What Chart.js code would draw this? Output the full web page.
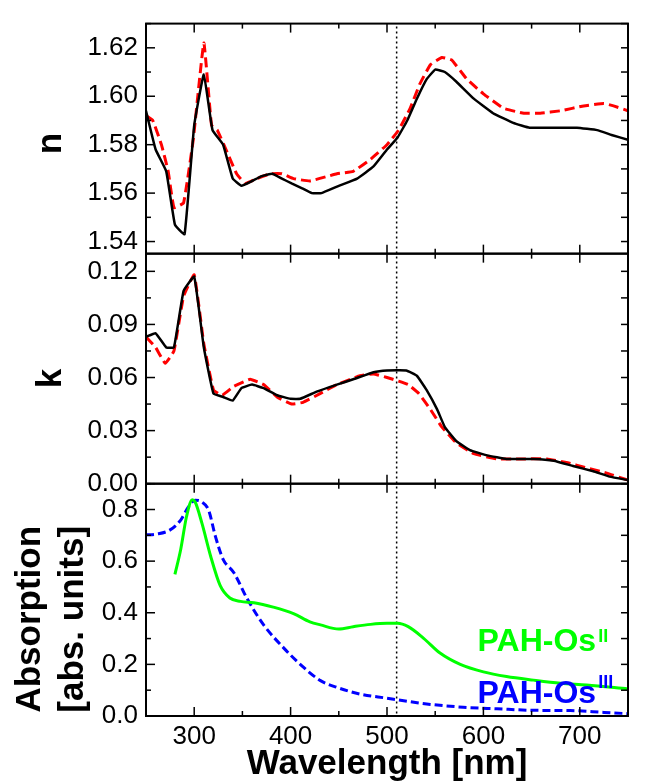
<!DOCTYPE html>
<html>
<head>
<meta charset="utf-8">
<title>n, k and absorption spectra</title>
<script src="https://cdn.jsdelivr.net/npm/chart.js@4.4.1/dist/chart.umd.min.js"></script>
<style>
  html, body { margin: 0; padding: 0; background: #fff; }
  canvas { display: block; }
</style>
</head>
<body>
<canvas id="spectra" width="646" height="783"></canvas>
<script>
// values (wavelength in nm)
const nBlackWl = [250, 260, 271, 280, 290, 300, 310, 319, 330, 340, 349, 360, 370, 381, 391, 401, 412, 422, 432, 450, 469, 486, 500, 511, 521, 531, 541, 550, 560, 572, 590, 610, 631, 648, 673, 697, 718, 733, 750];
const nBlack = [1.594, 1.578, 1.569, 1.547, 1.543, 1.588, 1.609, 1.586, 1.580, 1.566, 1.563, 1.565, 1.567, 1.568, 1.566, 1.564, 1.562, 1.560, 1.560, 1.563, 1.566, 1.571, 1.578, 1.583, 1.590, 1.599, 1.607, 1.611, 1.610, 1.606, 1.599, 1.593, 1.589, 1.587, 1.587, 1.587, 1.586, 1.584, 1.582];

const nRedWl = [250, 257, 266, 273, 279, 289, 299, 310, 318, 324, 334, 344, 353, 365, 379, 391, 403, 420, 439, 448, 465, 483, 500, 512, 524, 534, 545, 557, 567, 583, 600, 621, 642, 659, 680, 704, 725, 735, 750];
const nRed = [1.592, 1.590, 1.580, 1.569, 1.554, 1.556, 1.582, 1.622, 1.588, 1.586, 1.577, 1.568, 1.564, 1.566, 1.568, 1.568, 1.566, 1.565, 1.567, 1.568, 1.569, 1.574, 1.580, 1.586, 1.595, 1.605, 1.613, 1.616, 1.615, 1.607, 1.601, 1.595, 1.593, 1.593, 1.594, 1.596, 1.597, 1.596, 1.594];

const kBlackWl = [250, 260, 271, 279, 289, 300, 310, 320, 330, 340, 349, 360, 372, 386, 400, 410, 427, 448, 465, 486, 500, 520, 531, 541, 552, 560, 572, 586, 604, 624, 652, 673, 693, 714, 731, 750];
const kBlack = [0.083, 0.085, 0.077, 0.077, 0.109, 0.117, 0.077, 0.051, 0.049, 0.047, 0.054, 0.056, 0.054, 0.050, 0.048, 0.048, 0.052, 0.056, 0.059, 0.063, 0.064, 0.064, 0.061, 0.053, 0.042, 0.032, 0.024, 0.019, 0.016, 0.014, 0.014, 0.013, 0.010, 0.007, 0.004, 0.002];

const kRedWl = [250, 260, 270, 279, 289, 300, 310, 320, 329, 341, 358, 372, 386, 401, 413, 431, 448, 472, 486, 500, 512, 522, 533, 545, 557, 572, 590, 614, 638, 666, 686, 707, 728, 750];
const kRed = [0.083, 0.077, 0.068, 0.075, 0.106, 0.118, 0.079, 0.053, 0.050, 0.055, 0.059, 0.056, 0.049, 0.045, 0.046, 0.051, 0.056, 0.061, 0.062, 0.060, 0.058, 0.056, 0.051, 0.042, 0.032, 0.023, 0.017, 0.014, 0.014, 0.014, 0.012, 0.009, 0.006, 0.002];

const absOs2Wl = [280, 286, 292, 298, 301, 308, 317, 327, 337, 348, 362, 382, 403, 420, 431, 450, 465, 483, 500, 511, 522, 538, 555, 576, 600, 624, 652, 680, 707, 750];
const absOs2 = [0.549, 0.645, 0.772, 0.838, 0.829, 0.747, 0.620, 0.505, 0.457, 0.444, 0.439, 0.422, 0.397, 0.365, 0.353, 0.337, 0.346, 0.355, 0.359, 0.359, 0.346, 0.301, 0.244, 0.200, 0.171, 0.153, 0.139, 0.127, 0.120, 0.105];

const absOs3Wl = [250, 261, 275, 286, 294, 301, 308, 315, 322, 330, 341, 355, 372, 393, 410, 431, 448, 472, 500, 521, 545, 579, 614, 652, 690, 725, 750];
const absOs3 = [0.702, 0.705, 0.721, 0.759, 0.810, 0.836, 0.829, 0.797, 0.696, 0.607, 0.556, 0.454, 0.353, 0.263, 0.200, 0.137, 0.111, 0.085, 0.069, 0.057, 0.045, 0.034, 0.028, 0.022, 0.021, 0.014, 0.009];

// tick labels
const xMajor = [300, 400, 500, 600, 700];
const nMajor = [1.54, 1.56, 1.58, 1.60, 1.62];
const kMajor = [0, 0.03, 0.06, 0.09, 0.12];
const absMajor = [0, 0.2, 0.4, 0.6, 0.8];

const markerWl = 510; // dotted vertical line

const FONT = "'Liberation Sans', Arial, Helvetica, sans-serif";
const GREEN = '#00ff00';
const BLUE = '#0000ff';
const RED = '#ff0000';

const pts = (xs, ys) => xs.map((x, i) => ({ x: x, y: ys[i] }));
const setTicks = (arr) => (scale) => { scale.ticks = arr.map(v => ({ value: v })); };

function line(ctx, x1, y1, x2, y2) {
  ctx.beginPath();
  ctx.moveTo(x1, y1);
  ctx.lineTo(x2, y2);
  ctx.stroke();
}

// frames, inward ticks, marker line and curve labels
const panelPlugin = {
  id: 'panels',
  beforeDatasetsDraw(chart) {
    const { ctx, chartArea } = chart;
    const px = chart.scales.x.getPixelForValue(markerWl);
    ctx.save();
    ctx.strokeStyle = '#000';
    ctx.lineWidth = 1.5;
    ctx.setLineDash([2, 3]);
    line(ctx, px, chartArea.top + 3, px, chartArea.bottom);
    ctx.restore();
  },
  afterDraw(chart) {
    const { ctx } = chart;
    const x = chart.scales.x;
    const panels = [['yN', 0.01], ['yK', 0.015], ['yA', 0.1]];
    ctx.save();
    ctx.strokeStyle = '#000';
    for (const [id, minorStep] of panels) {
      const y = chart.scales[id];
      const L = x.left, R = x.right, T = y.top, B = y.bottom;
      ctx.lineWidth = 1.5;
      for (let v = 250; v <= 750; v += 50) {
        const p = x.getPixelForValue(v);
        const len = v % 100 === 0 ? 9 : 5;
        line(ctx, p, T, p, T + len);
        line(ctx, p, B, p, B - len);
      }
      const i0 = Math.ceil(y.min / minorStep - 1e-6);
      for (let i = i0; i * minorStep <= y.max + 1e-9; i++) {
        const v = i * minorStep;
        const p = y.getPixelForValue(v);
        const major = y.ticks.some(t => Math.abs(t.value - v) < 1e-9);
        line(ctx, L, p, L + (major ? 9 : 5), p);
        line(ctx, R, p, R - 7, p);
      }
      ctx.lineWidth = 2;
      ctx.strokeRect(L, T, R - L, B - T);
    }

    // curve labels in the absorption panel
    const yA = chart.scales.yA;
    const labels = [
      { text: 'PAH-Os', sup: 'II', color: GREEN, wl: 594, a: 0.251, raise: 9 },
      { text: 'PAH-Os', sup: 'III', color: BLUE, wl: 594, a: 0.052, raise: 15 }
    ];
    ctx.textBaseline = 'alphabetic';
    ctx.textAlign = 'left';
    for (const lb of labels) {
      const lx = x.getPixelForValue(lb.wl);
      const ly = yA.getPixelForValue(lb.a);
      ctx.fillStyle = lb.color;
      ctx.font = 'bold 32px ' + FONT;
      ctx.fillText(lb.text, lx, ly);
      const w = ctx.measureText(lb.text).width;
      ctx.font = 'bold 18px ' + FONT;
      ctx.fillText(lb.sup, lx + w + 2, ly - lb.raise);
    }
    ctx.restore();
  }
};

const tickFont = { family: FONT, size: 26, lineHeight: 1.2 };
const titleFont = { family: FONT, size: 35, weight: 'bold', lineHeight: 1 };

function yScale(min, max, majors, digits, title, weight, stackWeight, titleOpts) {
  return {
    type: 'linear',
    position: 'left',
    stack: 'panels',
    stackWeight: stackWeight,
    weight: weight,
    min: min,
    max: max,
    afterBuildTicks: setTicks(majors),
    afterFit: (s) => { s.width = 146; },
    grid: { display: false, drawTicks: false },
    border: { display: false },
    ticks: { font: tickFont, color: '#000', padding: 8, autoSkip: false, callback: v => v.toFixed(digits) },
    title: Object.assign({ display: true, text: title, color: '#000', font: titleFont, padding: { top: 34, bottom: 0 } }, titleOpts || {})
  };
}

new Chart(document.getElementById('spectra'), {
  type: 'line',
  data: {
    datasets: [
      { data: pts(nBlackWl, nBlack), yAxisID: 'yN', borderColor: '#000', borderWidth: 2.5, tension: 0.1 },
      { data: pts(nRedWl, nRed), yAxisID: 'yN', borderColor: RED, borderWidth: 3, borderDash: [10, 5], tension: 0.1 },
      { data: pts(kBlackWl, kBlack), yAxisID: 'yK', borderColor: '#000', borderWidth: 2.5, tension: 0.1 },
      { data: pts(kRedWl, kRed), yAxisID: 'yK', borderColor: RED, borderWidth: 3, borderDash: [10, 5], tension: 0.1 },
      { data: pts(absOs2Wl, absOs2), yAxisID: 'yA', borderColor: GREEN, borderWidth: 3, cubicInterpolationMode: 'monotone' },
      { data: pts(absOs3Wl, absOs3), yAxisID: 'yA', borderColor: BLUE, borderWidth: 3, borderDash: [8, 4], cubicInterpolationMode: 'monotone' }
    ]
  },
  options: {
    responsive: false,
    animation: false,
    devicePixelRatio: 1,
    layout: { padding: { left: 0, right: 18, top: 9, bottom: 0 } },
    elements: { point: { radius: 0 } },
    plugins: { legend: { display: false }, tooltip: { enabled: false } },
    scales: {
      x: {
        type: 'linear',
        position: 'bottom',
        min: 250,
        max: 750,
        afterBuildTicks: setTicks(xMajor),
        afterFit: (s) => { s.height = 67; },
        grid: { display: false, drawTicks: false },
        border: { display: false },
        ticks: { font: tickFont, color: '#000', padding: 5, autoSkip: false, maxRotation: 0, callback: v => String(v) },
        title: { display: true, text: 'Wavelength [nm]', color: '#000', font: titleFont, padding: { top: 0, bottom: 1 } }
      },
      yN: yScale(1.535, 1.63, nMajor, 2, 'n ', 3, 234.7),
      yK: yScale(0, 0.13, kMajor, 2, 'k  ', 2, 234.7),
      yA: yScale(0, 0.9, absMajor, 1, ['Absorption    ', '[abs. units]    '], 1, 237,
        { font: { family: FONT, size: 35, weight: 'bold', lineHeight: 1.25 }, padding: { top: 8, bottom: 0 } })
    }
  },
  plugins: [panelPlugin]
});
</script>
</body>
</html>
